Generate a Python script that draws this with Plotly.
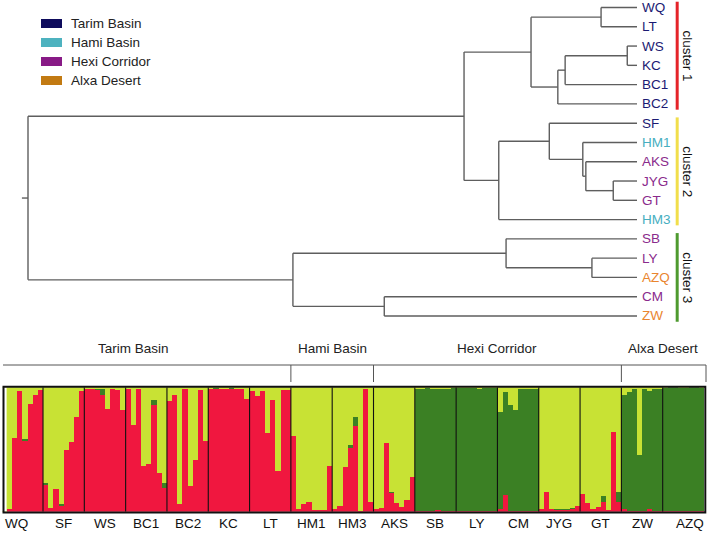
import plotly.graph_objects as go

W, H = 709, 534
FONT = "Liberation Sans, Arial, sans-serif"

# ---------------- data ----------------
region_names = ["Tarim Basin", "Hami Basin", "Hexi Corridor", "Alxa Desert"]
legend_colors = ["#0E0B5C", "#4DB2BF", "#881A86", "#C27A12"]
label_colors = ["#1B1A73", "#47AEBF", "#8A2A8C", "#E9852F"]

leaf_region = {
    "WQ": 0, "LT": 0, "WS": 0, "KC": 0, "BC1": 0, "BC2": 0, "SF": 0,
    "HM1": 1, "HM3": 1,
    "AKS": 2, "JYG": 2, "GT": 2, "SB": 2, "LY": 2, "CM": 2,
    "AZQ": 3, "ZW": 3,
}

# dendrogram: (node depth from root, children); tips end at depth 1.0
tree = (0.0, [
    (0.716, [
        (0.826, [
            (0.941, ["WQ", "LT"]),
            (0.870, [(0.882, [(0.984, ["WS", "KC"]), "BC1"]), "BC2"]),
        ]),
        (0.773, [
            (0.856, ["SF", (0.911, ["HM1", (0.916, ["AKS", (0.961, ["JYG", "GT"])])])]),
            "HM3",
        ]),
    ]),
    (0.435, [
        (0.785, ["SB", (0.926, ["LY", "AZQ"])]),
        (0.585, ["CM", "ZW"]),
    ]),
])

cluster_names = ["cluster 1", "cluster 2", "cluster 3"]
cluster_first = ["WQ", "SF", "SB"]
cluster_last = ["BC2", "HM3", "ZW"]
cluster_colors = ["#E52329", "#F1DE4B", "#4E9A2F"]

# STRUCTURE plot (K=3): populations, region of each, per-individual membership
pops = ["WQ", "SF", "WS", "BC1", "BC2", "KC", "LT", "HM1", "HM3", "AKS",
        "SB", "LY", "CM", "JYG", "GT", "ZW", "AZQ"]
pop_region = [0, 0, 0, 0, 0, 0, 0, 1, 1, 2, 2, 2, 2, 2, 2, 3, 3]

red = {
    "WQ":  [0.00, 0.02, 0.59, 0.97, 0.565, 0.865, 0.94, 0.98],
    "SF":  [0.215, 0.03, 0.18, 0.05, 0.50, 0.56, 0.76, 0.97],
    "WS":  [0.985, 0.985, 0.98, 0.94, 0.825, 0.985, 0.98, 0.82],
    "BC1": [0.985, 0.70, 0.985, 0.37, 0.385, 0.86, 0.315, 0.19],
    "BC2": [0.89, 0.94, 0.065, 0.985, 0.21, 0.42, 0.975, 0.57],
    "KC":  [0.99, 0.99, 0.99, 0.985, 0.99, 0.99, 0.985, 0.905],
    "LT":  [0.97, 0.93, 0.97, 0.635, 0.90, 0.33, 0.98, 0.98],
    "HM1": [0.61, 0.02, 0.06, 0.075, 0.015, 0.015, 0.015, 0.37],
    "HM3": [0.02, 0.05, 0.36, 0.51, 0.69, 0.01, 0.985, 0.08],
    "AKS": [0.02, 0.03, 0.555, 0.15, 0.07, 0.035, 0.095, 0.28],
    "SB":  [0.01, 0.01, 0.01, 0.01, 0.015, 0.01, 0.01, 0.01],
    "LY":  [0.01, 0.01, 0.01, 0.01, 0.01, 0.01, 0.01, 0.01],
    "CM":  [0.02, 0.135, 0.01, 0.01, 0.01, 0.01, 0.01, 0.01],
    "JYG": [0.02, 0.155, 0.02, 0.015, 0.015, 0.015, 0.02, 0.045],
    "GT":  [0.14, 0.07, 0.02, 0.035, 0.08, 0.015, 0.64, 0.08],
    "ZW":  [0.02, 0.01, 0.01, 0.01, 0.01, 0.02, 0.01, 0.01],
    "AZQ": [0.01, 0.01, 0.01, 0.01, 0.01, 0.01, 0.01, 0.01],
}
green = {
    "WQ":  [0, 0, 0, 0, 0.02, 0, 0, 0],
    "SF":  [0.02, 0, 0, 0.015, 0, 0, 0, 0],
    "WS":  [0, 0, 0.005, 0.045, 0, 0, 0, 0],
    "BC1": [0, 0, 0, 0, 0, 0.04, 0, 0.04],
    "BC2": [0, 0, 0, 0, 0, 0, 0, 0],
    "KC":  [0, 0.005, 0, 0.005, 0.005, 0, 0, 0],
    "LT":  [0, 0, 0, 0, 0, 0, 0, 0],
    "HM1": [0, 0, 0, 0, 0, 0, 0, 0],
    "HM3": [0, 0, 0, 0.027, 0.075, 0, 0, 0],
    "AKS": [0, 0, 0, 0.005, 0, 0, 0, 0],
    "SB":  [0.98, 0.98, 0.985, 0.975, 0.975, 0.975, 0.98, 0.985],
    "LY":  [0.985, 0.985, 0.985, 0.985, 0.98, 0.985, 0.985, 0.985],
    "CM":  [0.785, 0.83, 0.85, 0.81, 0.975, 0.98, 0.98, 0.98],
    "JYG": [0.005, 0.005, 0, 0.01, 0.01, 0.01, 0.01, 0.005],
    "GT":  [0, 0, 0, 0, 0.045, 0, 0, 0.08],
    "ZW":  [0.92, 0.955, 0.975, 0.445, 0.98, 0.95, 0.98, 0.98],
    "AZQ": [0.985, 0.99, 0.99, 0.985, 0.985, 0.99, 0.99, 0.985],
}
COL_RED, COL_GREEN, COL_YELLOW = "#F0173F", "#3B8024", "#C8E234"

# ---------------- helpers ----------------
def PX(x):
    return x / W

def PY(y):
    return 1 - y / H

# ---------------- dendrogram geometry from the tree ----------------
leaf_order = []
seg_x, seg_y = [], []

def place(node):
    if isinstance(node, str):
        leaf_order.append(node)
        return 1.0, float(len(leaf_order) - 1)
    h, kids = node
    pts = [place(k) for k in kids]
    ys = [p[1] for p in pts]
    seg_x.extend([h, h, None]); seg_y.extend([min(ys), max(ys), None])
    for kh, ky in pts:
        seg_x.extend([h, kh, None]); seg_y.extend([ky, ky, None])
    return h, (min(ys) + max(ys)) / 2

root_h, root_y = place(tree)
seg_x.extend([root_h - 0.01, root_h, None]); seg_y.extend([root_y, root_y, None])

fig = go.Figure()
fig.add_trace(go.Scatter(x=seg_x, y=seg_y, mode="lines",
                         line=dict(color="#5E5E5E", width=1.4),
                         hoverinfo="skip", showlegend=False, xaxis="x", yaxis="y"))

# cluster bars
CLX = 1.066
for name, a, b, c in zip(cluster_names, cluster_first, cluster_last, cluster_colors):
    ya = leaf_order.index(a) - 0.3
    yb = leaf_order.index(b) + 0.3
    fig.add_trace(go.Scatter(x=[CLX, CLX], y=[ya, yb], mode="lines",
                             line=dict(color=c, width=3), hoverinfo="skip",
                             showlegend=False, xaxis="x", yaxis="y"))

annotations = []
for i, leaf in enumerate(leaf_order):
    annotations.append(dict(x=1.0, y=i, xref="x", yref="y", text=leaf,
                            xanchor="left", yanchor="middle", xshift=3, showarrow=False,
                            font=dict(family=FONT, size=13.5,
                                      color=label_colors[leaf_region[leaf]])))
for name, a, b in zip(cluster_names, cluster_first, cluster_last):
    ym = (leaf_order.index(a) + leaf_order.index(b)) / 2
    annotations.append(dict(x=CLX, y=ym, xref="x", yref="y", text=name, textangle=90,
                            xanchor="center", yanchor="middle", xshift=10, showarrow=False,
                            font=dict(family=FONT, size=13.5, color="#111111")))

# legend (drawn)
shapes = []
for k, (nm, col) in enumerate(zip(region_names, legend_colors)):
    yc = 23.5 + 19 * k
    shapes.append(dict(type="rect", xref="paper", yref="paper",
                       x0=PX(41), x1=PX(62), y0=PY(yc + 4.5), y1=PY(yc - 4.5),
                       fillcolor=col, line=dict(width=0), layer="above"))
    annotations.append(dict(x=PX(69), y=PY(yc), xref="paper", yref="paper", text=nm,
                            xanchor="left", yanchor="middle", showarrow=False,
                            font=dict(family=FONT, size=13.5, color="#222222")))

# ---------------- STRUCTURE bars ----------------
xs, r_vals, g_vals, y_vals = [], [], [], []
pop_start = []
n = 0
for p in pops:
    pop_start.append(n)
    for rv, gv in zip(red[p], green[p]):
        xs.append(n); r_vals.append(rv); g_vals.append(gv); y_vals.append(max(0.0, 1 - rv - gv))
        n += 1
pop_start.append(n)

for vals, col in [(r_vals, COL_RED), (g_vals, COL_GREEN), (y_vals, COL_YELLOW)]:
    fig.add_trace(go.Bar(x=xs, y=vals, marker=dict(color=col, line=dict(width=0)),
                         width=1.0, hoverinfo="skip", showlegend=False,
                         xaxis="x2", yaxis="y2"))

# blank first slot (white strip at left of the plot)
shapes.append(dict(type="rect", xref="x2", yref="y2", x0=-0.5, x1=0.45, y0=0, y1=1,
                   fillcolor="white", line=dict(width=0), layer="above"))

# population separators
for s in pop_start[1:-1]:
    shapes.append(dict(type="line", xref="x2", yref="y2", x0=s - 0.5, x1=s - 0.5, y0=0, y1=1,
                       line=dict(color="#111111", width=1.1), layer="above"))
# frame
shapes.append(dict(type="rect", xref="paper", yref="paper", x0=PX(3.5), x1=PX(705.3),
                   y0=PY(512.5), y1=PY(386.8), line=dict(color="#111111", width=2),
                   fillcolor="rgba(0,0,0,0)", layer="above"))

# population labels
for k, p in enumerate(pops):
    c = (pop_start[k] + pop_start[k + 1] - 1) / 2
    shift = -6 if k == 0 else (7 if k == len(pops) - 1 else 0)
    annotations.append(dict(x=c, y=PY(523), xref="x2", yref="paper", text=p,
                            xanchor="center", yanchor="middle", xshift=shift, showarrow=False,
                            font=dict(family=FONT, size=13.5, color="#111111")))

# region brackets and labels
shapes.append(dict(type="line", xref="paper", yref="paper", x0=PX(3), x1=PX(706),
                   y0=PY(365), y1=PY(365), line=dict(color="#555555", width=1)))
shapes.append(dict(type="line", xref="paper", yref="paper", x0=PX(706), x1=PX(706),
                   y0=PY(365), y1=PY(382), line=dict(color="#555555", width=1)))
reg_bounds = []
for r in range(len(region_names)):
    idx = [k for k in range(len(pops)) if pop_region[k] == r]
    reg_bounds.append((pop_start[idx[0]] - 0.5, pop_start[idx[-1] + 1] - 0.5))
for r, (a, b) in enumerate(reg_bounds):
    if r > 0:
        shapes.append(dict(type="line", xref="x2", yref="paper", x0=a, x1=a,
                           y0=PY(365), y1=PY(382), line=dict(color="#555555", width=1)))
    annotations.append(dict(x=(a + b) / 2, y=PY(348), xref="x2", yref="paper",
                            text=region_names[r], xanchor="center", yanchor="middle",
                            xshift=-13 if r == 0 else 0, showarrow=False,
                            font=dict(family=FONT, size=13.5, color="#222222")))

# ---------------- layout ----------------
hidden = dict(visible=False, showgrid=False, zeroline=False, fixedrange=True)
fig.update_layout(
    width=W, height=H, margin=dict(l=0, r=0, t=0, b=0),
    paper_bgcolor="white", plot_bgcolor="rgba(0,0,0,0)",
    barmode="stack", bargap=0,
    xaxis=dict(domain=[0, 1], range=[-28 / 609, (W - 28) / 609], **hidden),
    yaxis=dict(domain=[0, 1], range=[(H - 7.5) / 19.28, -7.5 / 19.28], **hidden),
    xaxis2=dict(domain=[PX(1.7), PX(704.0)], range=[-0.5, n - 0.5], anchor="y2", **hidden),
    yaxis2=dict(domain=[PY(511.8), PY(387.3)], range=[0, 1], anchor="x2", **hidden),
    shapes=shapes, annotations=annotations, showlegend=False,
)

fig.write_html(
    "out.html",
    config={"displayModeBar": False, "staticPlot": True},
    post_script="document.body.style.margin='0';document.body.style.padding='0';"
                "document.body.style.overflow='hidden';",
)
